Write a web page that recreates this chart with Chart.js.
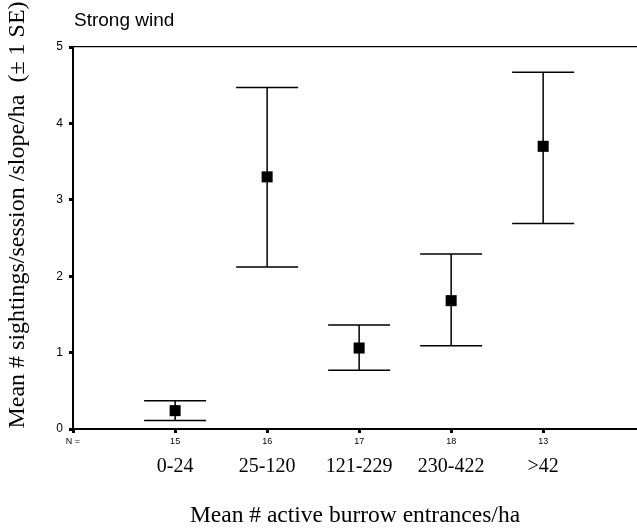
<!DOCTYPE html>
<html><head><meta charset="utf-8">
<script src="https://cdn.jsdelivr.net/npm/chart.js@4.4.1/dist/chart.umd.min.js"></script>
<style>html,body{margin:0;padding:0;background:#fff}#wrap{width:637px;height:531px}</style>
</head><body><div id="wrap"><canvas id="c" width="637" height="531"></canvas></div>
<script>
const chartTitle = 'Strong wind';
const categories = ['0-24', '25-120', '121-229', '230-422', '>42'];
const nPrefix = 'N =';
const nLabels = ['15', '16', '17', '18', '13'];
const means = [0.24, 3.30, 1.06, 1.68, 3.70];
const seUpper = [0.37, 4.47, 1.36, 2.29, 4.67];
const seLower = [0.11, 2.12, 0.77, 1.09, 2.69];
const yTicks = [0, 1, 2, 3, 4, 5];
const xTitle = 'Mean # active burrow entrances/ha';
const yTitle = 'Mean # sightings/session /slope/ha  (\u00B1 1 SE)';

const X_MIN = -0.11, X_MAX = 6.02;
const positions = categories.map((c, i) => i + 1);

const errorBars = {
  id: 'errorBars',
  beforeDatasetsDraw(chart) {
    const xs = chart.scales.x, ys = chart.scales.y, ctx = chart.ctx;
    ctx.save();
    ctx.strokeStyle = '#000';
    ctx.lineWidth = 1.5;
    positions.forEach((p, i) => {
      const px = xs.getPixelForValue(p);
      const half = xs.getPixelForValue(p + 0.337) - px;
      const hi = ys.getPixelForValue(seUpper[i]);
      const lo = ys.getPixelForValue(seLower[i]);
      ctx.beginPath();
      ctx.moveTo(px, hi); ctx.lineTo(px, lo);
      ctx.moveTo(px - half, hi); ctx.lineTo(px + half, hi);
      ctx.moveTo(px - half, lo); ctx.lineTo(px + half, lo);
      ctx.stroke();
    });
    ctx.restore();
  }
};

const texts = {
  id: 'texts',
  afterDraw(chart) {
    const ctx = chart.ctx, a = chart.chartArea;
    ctx.save();
    ctx.fillStyle = '#000';
    ctx.font = '19px "Liberation Sans"';
    ctx.textAlign = 'left';
    ctx.textBaseline = 'alphabetic';
    ctx.fillText(chartTitle, a.left + 1, 26);
    ctx.translate(18, 215);
    ctx.rotate(-Math.PI / 2);
    ctx.font = '24px "Liberation Serif"';
    ctx.textAlign = 'center';
    ctx.textBaseline = 'middle';
    ctx.fillText(yTitle, 0, 0);
    ctx.restore();
  }
};

const noHPad = s => { s.paddingLeft = 0; s.paddingRight = 0; };

Chart.defaults.font.family = '"Liberation Sans"';
Chart.defaults.color = '#000';

new Chart(document.getElementById('c'), {
  type: 'scatter',
  data: {
    datasets: [{
      data: positions.map((p, i) => ({x: p, y: means[i]})),
      pointStyle: 'rect',
      pointRadius: 7.8,
      pointHoverRadius: 7.8,
      backgroundColor: '#000',
      borderWidth: 0,
      showLine: false
    }]
  },
  options: {
    responsive: false,
    animation: false,
    devicePixelRatio: 1,
    layout: {autoPadding: false, padding: {top: 47, left: 0, right: 0, bottom: 0}},
    plugins: {legend: {display: false}, tooltip: {enabled: false}, title: {display: false}},
    scales: {
      x: {
        type: 'linear', position: 'bottom', weight: 1, min: X_MIN, max: X_MAX,
        afterBuildTicks: s => { s.ticks = [X_MIN].concat(positions).map(v => ({value: v})); },
        ticks: {autoSkip: false, maxRotation: 0, padding: 3, font: {size: 9}, color: '#000',
          callback: (v, i) => i === 0 ? nPrefix : nLabels[i - 1]},
        grid: {drawOnChartArea: false, drawTicks: true, tickLength: 4, tickWidth: 3, color: '#000'},
        border: {display: true, color: '#000', width: 2},
        afterFit: s => { s.height = 24; noHPad(s); }
      },
      xCat: {
        type: 'linear', position: 'bottom', weight: 2, min: X_MIN, max: X_MAX,
        afterBuildTicks: s => { s.ticks = positions.map(v => ({value: v})); },
        ticks: {autoSkip: false, maxRotation: 0, padding: 2, font: {family: '"Liberation Serif"', size: 20}, color: '#000',
          callback: (v, i) => categories[i]},
        grid: {display: false, drawTicks: false},
        border: {display: false},
        title: {display: true, text: xTitle, font: {family: '"Liberation Serif"', size: 23.5}, color: '#000', padding: {top: 0, bottom: 1}},
        afterFit: s => { s.height = 78; noHPad(s); }
      },
      xTop: {
        type: 'linear', position: 'top', min: X_MIN, max: X_MAX,
        ticks: {display: false},
        grid: {display: false, drawTicks: false},
        border: {display: true, color: '#000', width: 1.3},
        afterFit: s => { s.height = 0; noHPad(s); }
      },
      y: {
        type: 'linear', position: 'left', min: 0, max: 5,
        afterBuildTicks: s => { s.ticks = yTicks.map(v => ({value: v})); },
        ticks: {padding: 6, font: {size: 12}, color: '#000'},
        grid: {drawOnChartArea: false, drawTicks: true, tickLength: 4, tickWidth: 3, color: '#000'},
        border: {display: true, color: '#000', width: 2},
        afterFit: s => { s.width = 73; }
      }
    }
  },
  plugins: [errorBars, texts]
});
</script>
</body></html>
